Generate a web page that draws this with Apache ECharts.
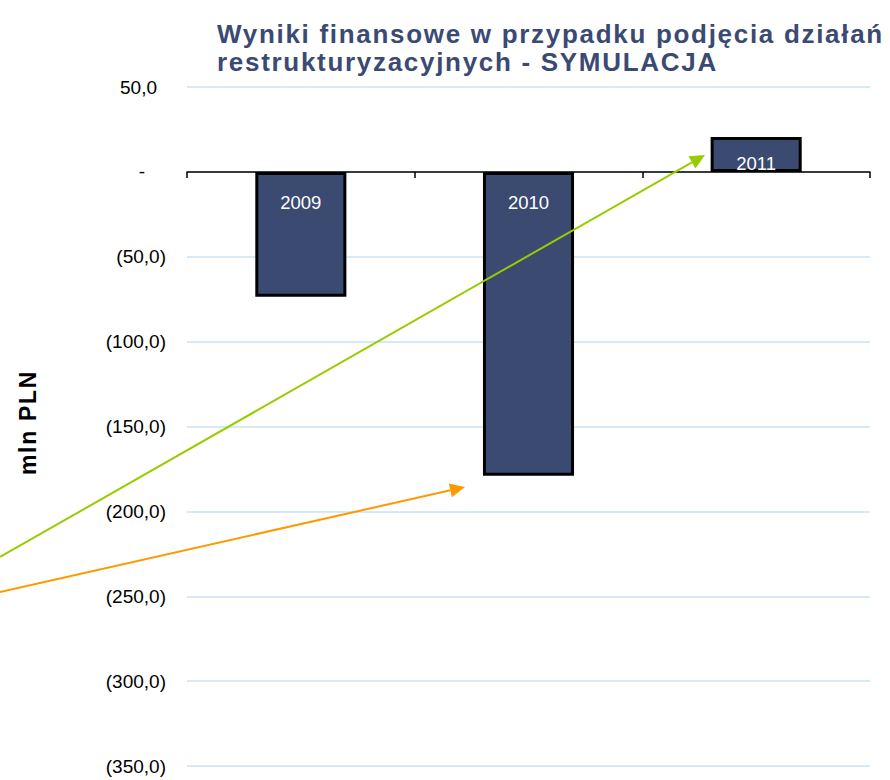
<!DOCTYPE html>
<html>
<head>
<meta charset="utf-8">
<script src="https://cdn.jsdelivr.net/npm/echarts@6/dist/echarts.min.js"></script>
<style>
  html, body { margin: 0; padding: 0; background: #fff; }
  #main { width: 890px; height: 780px; }
  /* pogrubione napisy (tytuł, nazwa osi) są lekko rozstrzelone jak w oryginale */
  #main text[style*="bold"] { letter-spacing: 1.7px; }
</style>
</head>
<body>
<div id="main"></div>
<script>
// dane wykresu
var years = ['2009', '2010', '2011'];
var wynik = [-73.5, -179.0, 20.5];
var yMin = -350, yMax = 50, yStep = 50;

// strzałki (adnotacje, piksele): [x0, y0, x1, y1, kolor]
var arrows = [
    [0, 557, 705, 155, '#99cc00'],
    [0, 592, 465, 487, '#ff9900']
];

function fmt(v) {
    return v.toFixed(1).replace('.', ',');
}

function arrowGraphics(a) {
    var dx = a[2] - a[0], dy = a[3] - a[1];
    var len = Math.sqrt(dx * dx + dy * dy);
    var ux = dx / len, uy = dy / len;
    var hl = 15, hw = 7;
    var bx = a[2] - ux * hl, by = a[3] - uy * hl;
    return [{
        type: 'line',
        shape: { x1: a[0], y1: a[1], x2: bx, y2: by },
        style: { stroke: a[4], lineWidth: 2 },
        z: 100
    }, {
        type: 'polygon',
        shape: { points: [[a[2], a[3]], [bx - uy * hw, by + ux * hw], [bx + uy * hw, by - ux * hw]] },
        style: { fill: a[4] },
        z: 100
    }];
}

var myChart = echarts.init(document.getElementById('main'), null, { renderer: 'svg' });
var graphics = [];
arrows.forEach(function (a) {
    graphics = graphics.concat(arrowGraphics(a));
});

var option = {
    animation: false,
    title: {
        text: 'Wyniki finansowe w przypadku podjęcia działań\nrestrukturyzacyjnych - SYMULACJA',
        left: 217,
        top: 20,
        padding: 0,
        textStyle: {
            fontFamily: 'Liberation Sans',
            fontSize: 26,
            fontWeight: 'bold',
            color: '#3b4a72',
            lineHeight: 28
        }
    },
    grid: {
        left: 187,
        right: 20,
        top: 87,
        bottom: 14
    },
    xAxis: {
        type: 'category',
        data: years,
        axisLine: { onZero: true, lineStyle: { color: '#000', width: 1.5 } },
        axisTick: { show: true, length: 6, lineStyle: { color: '#000', width: 1.5 } },
        axisLabel: { show: false }
    },
    yAxis: {
        type: 'value',
        min: yMin,
        max: yMax,
        interval: yStep,
        name: 'mln PLN',
        nameLocation: 'middle',
        nameRotate: 90,
        nameGap: 148,
        nameTextStyle: {
            fontFamily: 'Liberation Sans',
            fontSize: 23,
            fontWeight: 'bold',
            color: '#000',
            padding: [0, 0, 0, 8]
        },
        axisLine: { show: false },
        axisTick: { show: false },
        splitLine: { lineStyle: { color: '#d6e9f5', width: 2 } },
        axisLabel: {
            margin: 21,
            fontFamily: 'Liberation Sans',
            fontSize: 19,
            color: '#000',
            formatter: function (v) {
                if (v === 0) return '{d|-}';
                if (v > 0) return '{p|' + fmt(v) + '}';
                return '{n|(' + fmt(-v) + ')}';
            },
            rich: {
                d: { fontFamily: 'Liberation Sans', fontSize: 19, color: '#000', padding: [0, 21, 0, 0] },
                p: { fontFamily: 'Liberation Sans', fontSize: 19, color: '#000', padding: [0, 9, 0, 0] },
                n: { fontFamily: 'Liberation Sans', fontSize: 19, color: '#000' }
            }
        }
    },
    series: [{
        type: 'bar',
        barWidth: '40%',
        itemStyle: {
            color: '#3b4a70',
            borderColor: '#000',
            borderWidth: 3
        },
        label: {
            show: true,
            color: '#fff',
            fontFamily: 'Liberation Sans',
            fontSize: 18.5,
            formatter: function (p) { return p.name; }
        },
        data: wynik.map(function (v) {
            return {
                value: v,
                label: v < 0 ? { position: 'insideTop', distance: 21 } : { position: 'insideBottom', distance: -1 }
            };
        })
    }],
    graphic: graphics
};
myChart.setOption(option);
</script>
</body>
</html>
